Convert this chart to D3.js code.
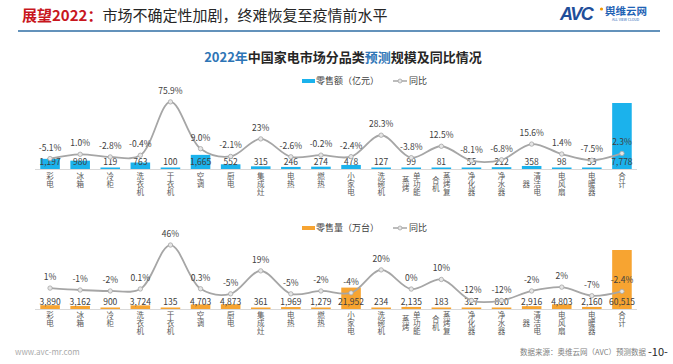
<!DOCTYPE html>
<html><head><meta charset="utf-8">
<script src="https://cdn.jsdelivr.net/npm/d3@7/dist/d3.min.js"></script>
<style>
html,body{margin:0;padding:0;background:#fff;}
svg{display:block;font-family:"Noto Sans CJK SC","Noto Sans",sans-serif;}
.vt{writing-mode:vertical-rl;}
</style></head>
<body><svg id="c" width="673" height="364"></svg>
<script>
// ---------- data ----------
const categories = ["彩电","冰箱","冷柜","洗衣机","干衣机","空调","厨电","集成灶","电热","燃热","小家电","洗碗机","单功能蒸烤","蒸烤复合机","净化器","净水器","清洁电器","电风扇","电暖器","合计"];
const retailValue = [1197,980,119,763,100,1665,552,315,246,274,478,127,99,81,55,212,358,98,59,7778];
const retailValueYoY = ["-5.1%","1.0%","-2.8%","-0.4%","75.9%","9.0%","-2.1%","23%","-2.6%","-0.2%","-2.4%","28.3%","-3.8%","12.5%","-8.1%","-6.8%","15.6%","1.4%","-7.5%","2.3%"];
const retailVolume = [3890,3162,900,3724,135,4703,4873,361,1969,1279,21952,234,2135,183,327,810,2916,4803,2160,60515];
const retailVolumeYoY = ["1%","-1%","-2%","0.1%","46%","0.3%","-5%","19%","-5%","-2%","-4%","20%","0%","10%","-12%","-12%","-2%","2%","-7%","-2.4%"];
const legendValue = ["零售额（亿元）","同比"];
const legendVolume = ["零售量（万台）","同比"];

const svg = d3.select("#c");
const fmt = d3.format(",");

// ---------- header ----------
const t = svg.append("text").attr("x",22).attr("y",21).attr("font-size",15);
t.append("tspan").attr("fill","#C8161D").attr("font-weight","bold").text("展望2022：");
t.append("tspan").attr("fill","#262626").text("市场不确定性加剧，终难恢复至疫情前水平");
svg.append("line").attr("x1",18).attr("x2",660).attr("y1",31).attr("y2",31)
  .attr("stroke","#2F6EA5").attr("stroke-width",1.6);
// logo
svg.append("text").attr("x",560).attr("y",19.5).attr("font-size",18).attr("font-weight","bold").attr("font-style","italic")
  .attr("font-family","Liberation Sans, Arial, sans-serif").attr("fill","#1F4E9A").attr("letter-spacing",-1.5).text("AVC");
svg.append("circle").attr("cx",601.5).attr("cy",9).attr("r",1.6).attr("fill","#F39800");
svg.append("text").attr("x",605).attr("y",15).attr("font-size",10.5).attr("font-weight","bold").attr("fill","#1F63B5").text("舆维云网");
svg.append("text").attr("x",612).attr("y",21).attr("font-size",3.5).attr("fill","#1F63B5").text("ALL VIEW CLOUD");

const ct = svg.append("text").attr("x",343).attr("y",62).attr("text-anchor","middle").attr("font-size",13).attr("font-weight","bold");
ct.append("tspan").attr("fill","#2E75B6").text("2022年");
ct.append("tspan").attr("fill","#262626").text("中国家电市场分品类");
ct.append("tspan").attr("fill","#2E75B6").text("预测");
ct.append("tspan").attr("fill","#262626").text("规模及同比情况");

// ---------- scales ----------
const x = d3.scaleBand().domain(categories).range([35,637]).paddingInner(0.35).paddingOuter(0.175);

function panel(cfg){
  const {base, vals, yoy, barColor, barScaleMax, barPx, lineDomain, lineRange, legend, legendY, valueLabelY, labelTop} = cfg;
  const yBar = d3.scaleLinear().domain([0, barScaleMax]).range([base, base - barPx]);
  const yLine = d3.scaleLinear().domain(lineDomain).range(lineRange);
  const g = svg.append("g");
  // axis line
  g.append("line").attr("x1",35).attr("x2",637).attr("y1",base+0.5).attr("y2",base+0.5).attr("stroke","#D9D9D9").attr("stroke-width",1);
  // bars
  g.selectAll("rect.bar").data(vals).join("rect").attr("class","bar")
    .attr("x",(d,i)=>x(categories[i])).attr("width",x.bandwidth())
    .attr("y",d=>Math.min(yBar(d), base-1.5)).attr("height",d=>Math.max(base-yBar(d),1.5))
    .attr("fill",barColor);
  // value labels
  g.selectAll("text.val").data(vals).join("text").attr("class","val")
    .attr("x",(d,i)=>x(categories[i])+x.bandwidth()/2).attr("y",valueLabelY)
    .attr("text-anchor","middle").attr("font-size",8.5).attr("fill","#404040").text(d=>fmt(d));
  // line
  const pts = yoy.map((s,i)=>[x(categories[i])+x.bandwidth()/2, yLine(parseFloat(s))]);
  g.append("path").attr("d", d3.line().curve(d3.curveCatmullRom.alpha(0.5))(pts))
    .attr("fill","none").attr("stroke","#A6A6A6").attr("stroke-width",1.8);
  g.selectAll("circle.m").data(pts).join("circle").attr("class","m")
    .attr("cx",d=>d[0]).attr("cy",d=>d[1]).attr("r",2.2)
    .attr("fill","#E6E6E6").attr("stroke","#A6A6A6").attr("stroke-width",0.8);
  g.selectAll("text.yoy").data(yoy).join("text").attr("class","yoy")
    .attr("x",(d,i)=>pts[i][0]).attr("y",(d,i)=>pts[i][1]-8)
    .attr("text-anchor","middle").attr("font-size",8.5).attr("fill","#404040").text(d=>d);
  // category labels: vertical text, 3 chars per column, columns right-to-left
  categories.forEach((c,i)=>{
    const chars = Array.from(c);
    const cols = [];
    for(let k=0;k<chars.length;k+=3) cols.push(chars.slice(k,k+3).join(""));
    const maxLen = d3.max(cols, d=>d.length);
    const cx = x(c)+x.bandwidth()/2;
    const colGap = 11;
    cols.forEach((col,ci)=>{
      const colX = cx + ((cols.length-1)/2 - ci)*colGap;
      const off = (maxLen - col.length)/2*8;
      g.append("text").attr("class","vt").attr("x",colX).attr("y",labelTop + off)
        .attr("font-size",7.5).attr("letter-spacing",0.5).attr("fill","#595959").text(col);
    });
  });
  // legend
  g.append("rect").attr("x",302).attr("y",legendY-2).attr("width",13).attr("height",4).attr("fill",barColor);
  g.append("text").attr("x",316).attr("y",legendY+3.2).attr("font-size",9).attr("fill","#404040").text(legend[0]);
  g.append("line").attr("x1",393).attr("x2",407).attr("y1",legendY).attr("y2",legendY).attr("stroke","#A6A6A6").attr("stroke-width",1.5);
  g.append("circle").attr("cx",400).attr("cy",legendY).attr("r",2).attr("fill","#E6E6E6").attr("stroke","#A6A6A6").attr("stroke-width",0.8);
  g.append("text").attr("x",409).attr("y",legendY+3.2).attr("font-size",9).attr("fill","#404040").text(legend[1]);
}

panel({base:169, vals:retailValue, yoy:retailValueYoY, barColor:"#1BB2EC", barScaleMax:7778, barPx:66,
  lineDomain:[-10,80], lineRange:[162,99], legend:legendValue, legendY:81, valueLabelY:165, labelTop:172});
panel({base:309, vals:retailVolume, yoy:retailVolumeYoY, barColor:"#F7A431", barScaleMax:60515, barPx:59,
  lineDomain:[-15,50], lineRange:[303.4,241.2], legend:legendVolume, legendY:228, valueLabelY:305, labelTop:311.5});

// ---------- footer ----------
svg.append("text").attr("x",15).attr("y",355).attr("font-size",8).attr("fill","#AAAAAA").text("www.avc-mr.com");
svg.append("text").attr("x",646).attr("y",355).attr("text-anchor","end").attr("font-size",7.5).attr("fill","#7F7F7F").text("数据来源：奥维云网（AVC）预测数据");
svg.append("text").attr("x",648).attr("y",356).attr("font-size",11).attr("fill","#262626").text("-10-");
</script></body></html>
